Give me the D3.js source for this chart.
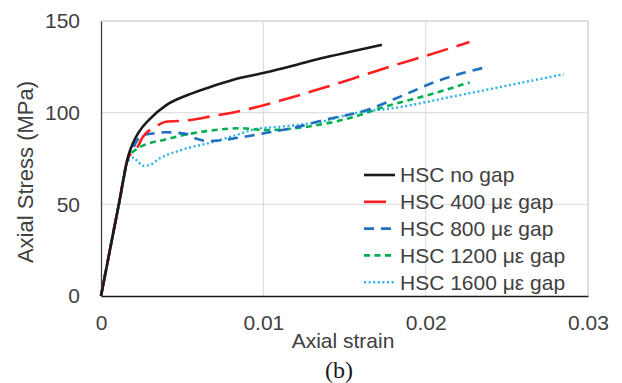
<!DOCTYPE html>
<html>
<head>
<meta charset="utf-8">
<script src="https://cdn.jsdelivr.net/npm/d3@7"></script>
<style>
  html, body { margin: 0; padding: 0; background: #fff; }
  svg { display: block; font-family: "Liberation Sans", Arial, sans-serif; }
</style>
</head>
<body>
<script>
// series: strain (mm/mm) and stress (MPa)
const noGapStrain = [0, 0.0011, 0.0017, 0.0020, 0.0023, 0.0030, 0.0040, 0.0053, 0.0069, 0.0086, 0.0102, 0.0120, 0.0135, 0.0155, 0.0173];
const noGapStress = [0, 50, 77, 84, 89, 96.5, 104, 109.5, 114.5, 119, 122, 126, 129.5, 133.5, 137];

const gap400Strain = [0, 0.0011, 0.0017, 0.0021, 0.0026, 0.0034, 0.0040, 0.0053, 0.0068, 0.0086, 0.0102, 0.0120, 0.0135, 0.0155, 0.0174, 0.0200, 0.0227];
const gap400Stress = [0, 50, 76, 79, 87, 92.5, 95, 95.8, 98, 101, 104.5, 109, 113, 118.5, 124, 131, 138.5];

const gap800Strain = [0, 0.0011, 0.0017, 0.0020, 0.0022, 0.0027, 0.0034, 0.0040, 0.0052, 0.0058, 0.0066, 0.0086, 0.0102, 0.0120, 0.0135, 0.0164, 0.0185, 0.0205, 0.0238];
const gap800Stress = [0, 50, 76, 81, 84.5, 88, 88.8, 89.3, 88.5, 86, 84.5, 86.5, 89, 92, 95.5, 101.5, 109, 116.5, 125];

const gap1200Strain = [0, 0.0011, 0.0017, 0.0021, 0.0027, 0.0038, 0.0055, 0.0070, 0.0086, 0.0102, 0.0120, 0.0135, 0.0155, 0.0174, 0.0205, 0.0227];
const gap1200Stress = [0, 50, 76, 79.5, 82.5, 85, 88.5, 90.5, 91.5, 90.5, 91.5, 93.5, 97.5, 103, 110.5, 116.5];

const gap1600Strain = [0, 0.0011, 0.0017, 0.0020, 0.0023, 0.0026, 0.0030, 0.0036, 0.0049, 0.0069, 0.0084, 0.0095, 0.0112, 0.0135, 0.0155, 0.0184, 0.0215, 0.0246, 0.0285];
const gap1600Stress = [0, 50, 74, 75.5, 73, 71, 71.5, 75, 79.5, 84, 88, 91, 92.5, 95, 99.5, 103, 108.5, 114, 121];

const seriesNames = ['HSC no gap', 'HSC 400 \u03bc\u03b5 gap', 'HSC 800 \u03bc\u03b5 gap', 'HSC 1200 \u03bc\u03b5 gap', 'HSC 1600 \u03bc\u03b5 gap'];
const xTicks = [0, 0.01, 0.02, 0.03];
const xTickLabels = ['0', '0.01', '0.02', '0.03'];
const yTicks = [0, 50, 100, 150];

const styles = [
  { color: '#1a1a1a', dash: null, width: 2.6 },
  { color: '#ff1f1f', dash: '22,9', width: 2.6 },
  { color: '#1f70c1', dash: '10,7', width: 2.6 },
  { color: '#00b04f', dash: '6,4.5', width: 2.6 },
  { color: '#29b2ea', dash: '2,2.6', width: 2.4 }
];

const series = [
  [noGapStrain, noGapStress],
  [gap400Strain, gap400Stress],
  [gap800Strain, gap800Stress],
  [gap1200Strain, gap1200Stress],
  [gap1600Strain, gap1600Stress]
].map(([xs, ys], i) => ({ name: seriesNames[i], style: styles[i], points: xs.map((x, j) => [x, ys[j]]) }));

const width = 622, height = 383;
const margin = { top: 21, right: 34, bottom: 87, left: 101 };
const textColor = '#404040';
const fontSize = 21;

const svg = d3.select('body').append('svg')
  .attr('width', width)
  .attr('height', height);

svg.append('rect').attr('width', width).attr('height', height).attr('fill', '#fff');

const x = d3.scaleLinear().domain([0, 0.03]).range([margin.left, width - margin.right]);
const y = d3.scaleLinear().domain([0, 150]).range([height - margin.bottom, margin.top]);

// gridlines
svg.append('g')
  .selectAll('line')
  .data(xTicks.slice(1))
  .join('line')
  .attr('x1', (d) => x(d)).attr('x2', (d) => x(d))
  .attr('y1', y(0)).attr('y2', y(150))
  .attr('stroke', (d, i) => i === xTicks.length - 2 ? '#bfbfbf' : '#d9d9d9')
  .attr('stroke-width', 1);

svg.append('g')
  .selectAll('line')
  .data(yTicks.slice(1))
  .join('line')
  .attr('x1', x(0)).attr('x2', x(0.03))
  .attr('y1', (d) => y(d)).attr('y2', (d) => y(d))
  .attr('stroke', (d, i) => i === yTicks.length - 2 ? '#bfbfbf' : '#d9d9d9')
  .attr('stroke-width', 1);

// axes
const yAxis = svg.append('g')
  .attr('transform', `translate(${x(0)},0)`)
  .call(d3.axisLeft(y).tickValues(yTicks).tickSize(0).tickPadding(21));
yAxis.select('.domain').attr('stroke', '#404040').attr('stroke-width', 1.3);
yAxis.selectAll('text').attr('font-size', fontSize).attr('fill', textColor)
  .attr('font-family', '"Liberation Sans", Arial, sans-serif');

const xAxis = svg.append('g')
  .attr('transform', `translate(0,${y(0)})`)
  .call(d3.axisBottom(x).tickValues(xTicks).tickFormat((d, i) => xTickLabels[i]).tickSize(0).tickPadding(19));
xAxis.select('.domain').attr('stroke', '#1a1a1a').attr('stroke-width', 1.3);
xAxis.selectAll('text').attr('font-size', fontSize).attr('fill', textColor)
  .attr('font-family', '"Liberation Sans", Arial, sans-serif');

// curves
const line = d3.line()
  .x((d) => x(d[0]))
  .y((d) => y(d[1]))
  .curve(d3.curveMonotoneX);

svg.append('g')
  .selectAll('path')
  .data(series.slice().reverse())
  .join('path')
  .attr('d', (d) => line(d.points))
  .attr('fill', 'none')
  .attr('stroke', (d) => d.style.color)
  .attr('stroke-width', (d) => d.style.width)
  .attr('stroke-dasharray', (d) => d.style.dash);

// legend
const legend = svg.append('g').attr('transform', 'translate(364,175)');
const rows = legend.selectAll('g')
  .data(series)
  .join('g')
  .attr('transform', (d, i) => `translate(0,${i * 26.8})`);
rows.append('line')
  .attr('x1', 0).attr('x2', 31).attr('y1', 0).attr('y2', 0)
  .attr('stroke', (d) => d.style.color)
  .attr('stroke-width', (d) => d.style.width)
  .attr('stroke-dasharray', (d) => d.style.dash);
rows.append('text')
  .attr('x', 36).attr('y', 0).attr('dy', '0.35em')
  .attr('font-size', fontSize)
  .attr('fill', textColor)
  .text((d) => d.name);

// titles
svg.append('text')
  .attr('x', 343).attr('y', 348)
  .attr('text-anchor', 'middle')
  .attr('font-size', fontSize)
  .attr('fill', textColor)
  .text('Axial strain');

svg.append('text')
  .attr('transform', 'translate(33,172) rotate(-90)')
  .attr('text-anchor', 'middle')
  .attr('font-size', 22)
  .attr('fill', textColor)
  .text('Axial Stress (MPa)');

svg.append('text')
  .attr('x', 339).attr('y', 378)
  .attr('text-anchor', 'middle')
  .attr('font-family', '"Liberation Serif", "DejaVu Serif", serif')
  .attr('font-size', 24)
  .attr('fill', '#1a1a1a')
  .text('(b)');
</script>
</body>
</html>
